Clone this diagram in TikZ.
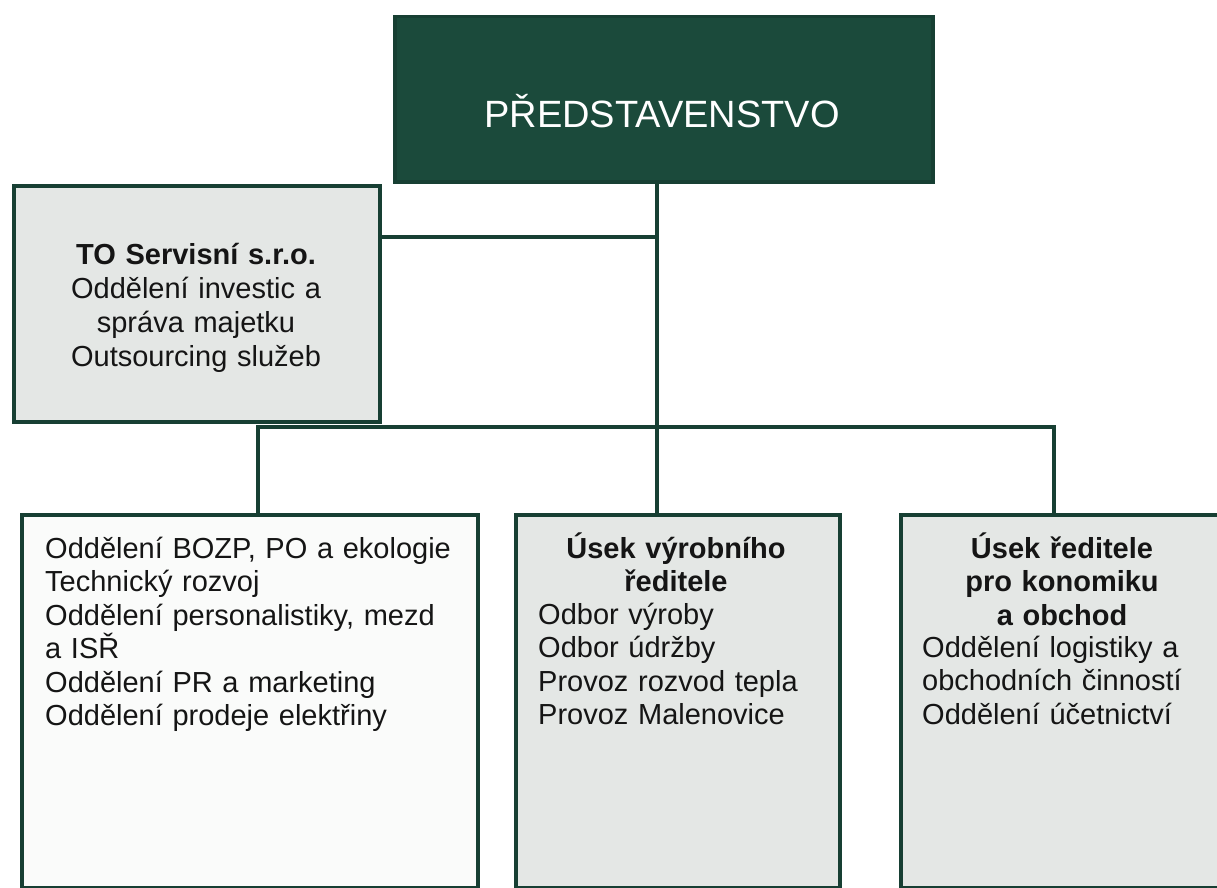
\documentclass[tikz,border=0pt]{standalone}
\usepackage{fontspec}
\setmainfont{Liberation Sans}
\definecolor{dkgreen}{HTML}{1B4A3B}
\definecolor{edgegreen}{HTML}{173F33}
\definecolor{boxgrey}{HTML}{E4E7E5}
\definecolor{boxwhite}{HTML}{FAFBFA}
\definecolor{ink}{HTML}{151515}
\begin{document}
\begin{tikzpicture}[x=1pt,y=-1pt,
  box/.style={draw=edgegreen, line width=3.5pt, rectangle, inner sep=0pt, anchor=north west},
  conn/.style={draw=edgegreen, line width=3.5pt},
  txt/.style={inner sep=0pt, text=ink, font=\fontsize{29}{33.5}\selectfont},
  head/.style={txt, align=center, font=\fontsize{29}{33.5}\selectfont\bfseries, anchor=base},
  list/.style={txt, align=left, anchor=base west}
]
\clip (0,0) rectangle (1217,888);
\fill[white] (0,0) rectangle (1217,888);

% boxes
\node[box, fill=dkgreen, minimum width=538pt, minimum height=165pt] (top) at (393,15) {};
\node[box, fill=boxgrey, minimum width=366pt, minimum height=236pt] (tos) at (12,184) {};
\node[box, fill=boxwhite, minimum width=456pt, minimum height=373pt] (lb) at (20,513) {};
\node[box, fill=boxgrey, minimum width=324pt, minimum height=373pt] (mb) at (514,513) {};
\node[box, fill=boxgrey, minimum width=331pt, minimum height=373pt] (rb) at (899,513) {};

% junctions
\coordinate (j1) at (657,237);
\coordinate (j2) at (657,427);
\coordinate (bl) at (258,427);
\coordinate (br) at (1054,427);

% connectors
\draw[conn] (top.south -| j1) -- (mb.north -| j1);
\draw[conn] (tos.east |- j1) -- (j1);
\draw[conn] (lb.north -| bl) -- (bl) -- (br) -- (rb.north -| br);

% texts
\node[anchor=base, inner sep=0pt, text=white, font=\fontsize{38}{44}\selectfont] (ttl) at (662,128) {PŘEDSTAVENSTVO};

\node[txt, align=center, anchor=base, text width=350pt, font=\fontsize{29}{34}\selectfont] (tost) at (196,264)
  {\textbf{TO Servisní s.r.o.}\\Oddělení investic a\\správa majetku\\Outsourcing služeb};

\node[list, text width=430pt] (lbt) at (45,558)
  {Oddělení BOZP, PO a ekologie\\Technický rozvoj\\Oddělení personalistiky, mezd\\a ISŘ\\Oddělení PR a marketing\\Oddělení prodeje elektřiny};

\node[head, text width=310pt] (mbh) at (676,558) {Úsek výrobního\\ředitele};
\node[list, text width=290pt] (mbt) at (538,624)
  {Odbor výroby\\Odbor údržby\\Provoz rozvod tepla\\Provoz Malenovice};

\node[head, text width=310pt] (rbh) at (1062,558) {Úsek ředitele\\pro konomiku\\a obchod};
\node[list, text width=290pt] (rbt) at (922,657)
  {Oddělení logistiky a\\obchodních činností\\Oddělení účetnictví};
\end{tikzpicture}
\end{document}
